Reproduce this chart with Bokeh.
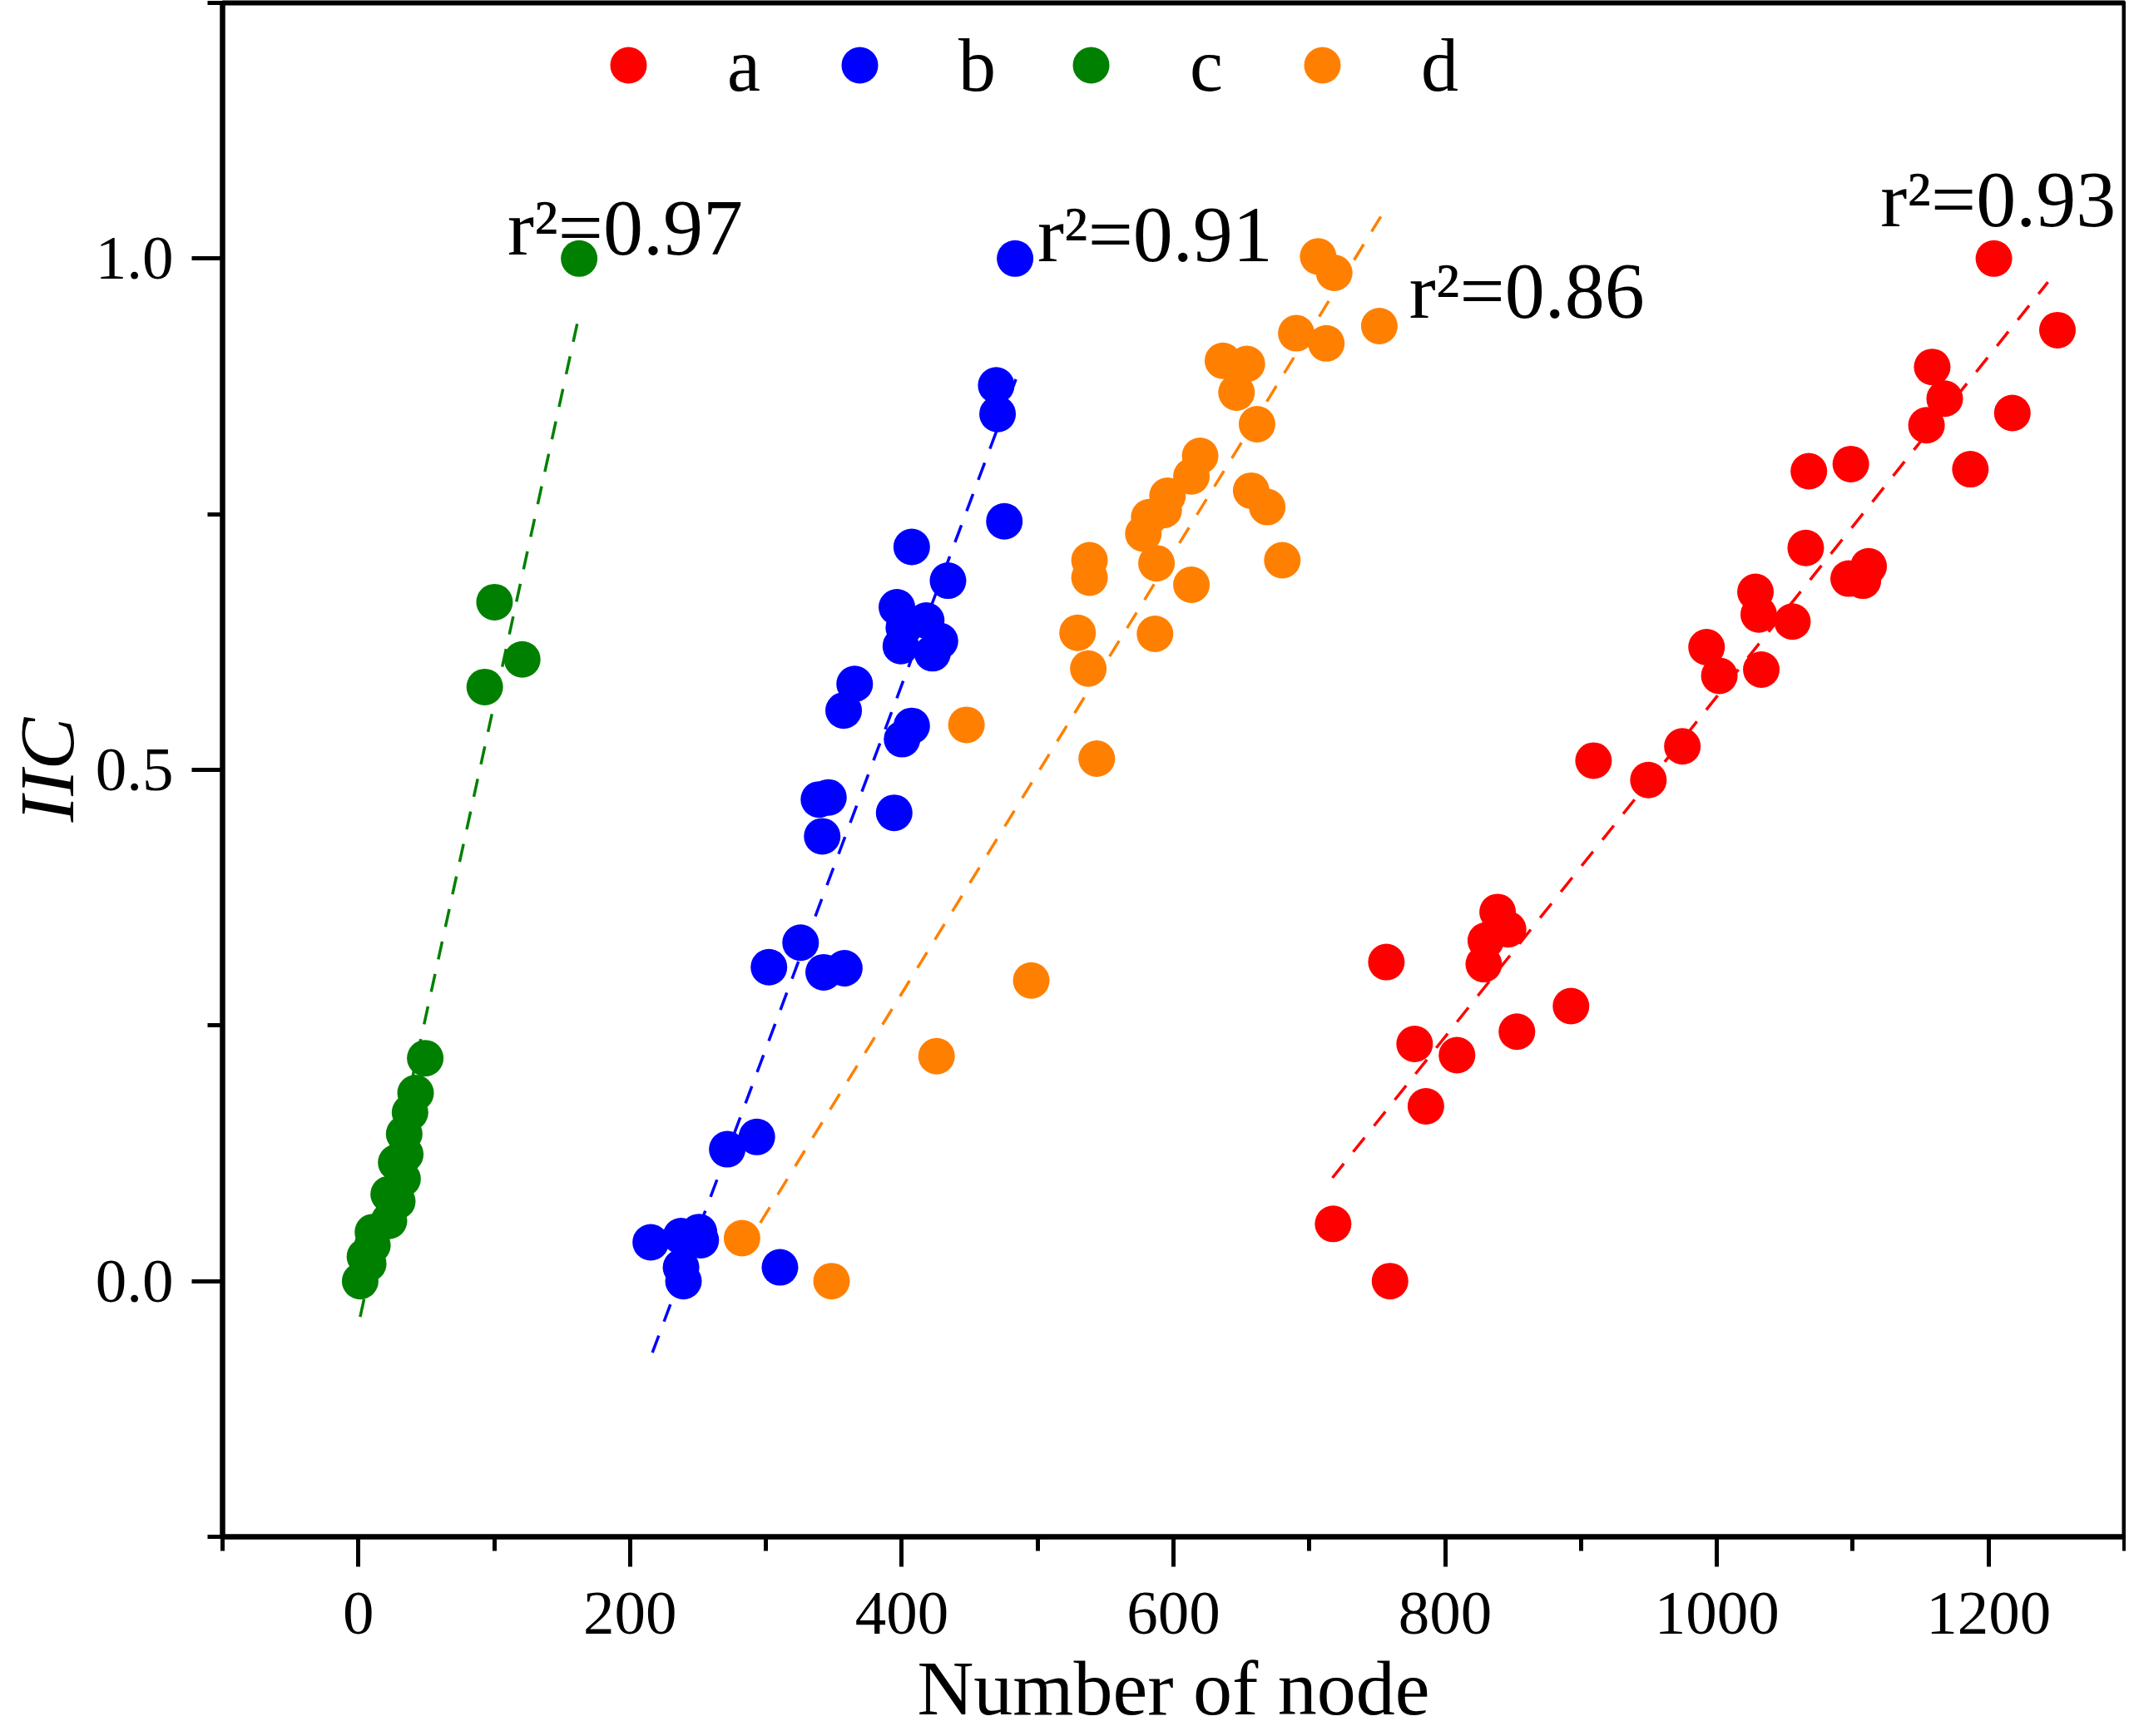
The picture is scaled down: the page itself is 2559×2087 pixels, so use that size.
from bokeh.plotting import figure
from bokeh.models import (Range1d, FixedTicker, PrintfTickFormatter, Legend,
                          LegendItem, ColumnDataSource)
from bokeh.core.properties import value
from bokeh.embed import file_html
from bokeh.resources import INLINE

# ---------------- data ----------------
series_names = ["a", "b", "c", "d"]
series_colors = ["#FF0000", "#0000FF", "#008000", "#FF8000"]

a_x = [1203.9, 1250.7, 1158.5, 1167.7, 1154.3, 1217.5, 1186.6, 1067.7, 1098.6,
       1065.4, 1111.7, 1097.0, 1107.5, 1028.4, 1030.8, 1055.6, 992.4, 1001.8,
       1032.7, 974.6, 909.2, 949.6, 838.6, 846.3, 829.9, 828.4, 756.7, 892.6,
       852.8, 777.5, 808.7, 785.8, 717.5, 759.4]
a_y = [1.000, 0.930, 0.894, 0.863, 0.837, 0.849, 0.794, 0.792, 0.799,
       0.717, 0.699, 0.687, 0.685, 0.674, 0.652, 0.645, 0.620, 0.592,
       0.598, 0.523, 0.509, 0.490, 0.361, 0.344, 0.333, 0.310, 0.312, 0.269,
       0.244, 0.232, 0.221, 0.171, 0.056, 0.000]

b_x = [483.4, 469.5, 470.5, 475.5, 407.3, 434.0, 396.4, 418.0, 428.1, 399.3,
       422.6, 401.5, 365.3, 357.2, 407.3, 400.2, 339.0, 346.0, 341.4, 394.4,
       325.5, 302.2, 342.5, 357.7, 293.3, 271.5, 215.2, 237.5, 250.7, 252.0,
       237.5, 239.3, 310.3]
b_y = [1.000, 0.876, 0.848, 0.743, 0.718, 0.685, 0.659, 0.646, 0.626, 0.621,
       0.614, 0.639, 0.584, 0.558, 0.543, 0.530, 0.471, 0.473, 0.435, 0.458,
       0.331, 0.307, 0.302, 0.306, 0.141, 0.129, 0.038, 0.044, 0.048, 0.040,
       0.0135, 0.000, 0.0135]

c_x = [162.5, 100.2, 120.6, 93.0, 49.2, 42.1, 38.0, 33.7, 34.5, 27.8, 32.5,
       22.3, 28.6, 22.5, 10.7, 10.3, 7.2, 4.8, 1.3]
c_y = [1.000, 0.664, 0.608, 0.581, 0.218, 0.184, 0.165, 0.144, 0.124, 0.116,
       0.100, 0.085, 0.078, 0.059, 0.048, 0.035, 0.017, 0.024, 0.000]

d_x = [706.5, 718.3, 751.5, 690.4, 712.5, 636.4, 654.0, 646.4, 661.5, 619.6,
       613.2, 595.6, 592.8, 582.1, 577.8, 657.2, 669.0, 680.1, 587.5, 613.2,
       538.2, 538.2, 529.4, 586.4, 537.3, 447.6, 543.5, 495.3, 425.6, 282.4,
       348.3]
d_y = [1.002, 0.986, 0.934, 0.927, 0.917, 0.900, 0.897, 0.869, 0.838, 0.807,
       0.787, 0.768, 0.754, 0.747, 0.731, 0.773, 0.757, 0.705, 0.702, 0.681,
       0.705, 0.688, 0.634, 0.633, 0.599, 0.544, 0.511, 0.294, 0.220, 0.042,
       0.000]

# fitted (dashed) regression lines: end points
a_fit_x = [717.0, 1243.7]
a_fit_y = [0.101, 0.977]
b_fit_x = [216.4, 484.0]
b_fit_y = [-0.070, 0.882]
c_fit_x = [1.3, 162.5]
c_fit_y = [-0.035, 0.945]
d_fit_x = [295.8, 752.6]
d_fit_y = [0.057, 1.041]

# r^2 annotations (baseline anchor, data units)
r2_text = ["r\u00b2=0.93", "r\u00b2=0.91", "r\u00b2=0.97", "r\u00b2=0.86"]
r2_x = [1120.4, 499.8, 109.8, 773.5]
r2_y = [1.0325, 0.9985, 1.0054, 0.9435]

x_ticks = [0, 200, 400, 600, 800, 1000, 1200]
x_minor = [-100, 100, 300, 500, 700, 900, 1100, 1300]
y_ticks = [0.0, 0.5, 1.0]
y_minor = [-0.25, 0.25, 0.75, 1.25]

x_title = "Number of node"
y_title = "IIC"

# ---------------- figure ----------------
SERIF = "Liberation Serif"

p = figure(width=2555, height=2083,
           x_range=Range1d(-100, 1300), y_range=Range1d(-0.25, 1.25),
           output_backend="svg", toolbar_location=None,
           min_border_left=265, min_border_right=2, min_border_top=3,
           min_border_bottom=236)
p.xgrid.visible = False
p.ygrid.visible = False
p.outline_line_color = "black"
p.outline_line_width = 6
p.outline_line_alpha = 1.0
p.background_fill_color = "white"
p.border_fill_color = "white"

xa = p.xaxis[0]
ya = p.yaxis[0]
xa.ticker = FixedTicker(ticks=x_ticks, minor_ticks=x_minor)
ya.ticker = FixedTicker(ticks=y_ticks, minor_ticks=y_minor)
ya.formatter = PrintfTickFormatter(format="%.1f")

for ax in (xa, ya):
    ax.axis_line_width = 6
    ax.axis_line_color = "black"
    ax.major_tick_line_width = 5
    ax.minor_tick_line_width = 5
    ax.major_tick_line_color = "black"
    ax.minor_tick_line_color = "black"
    ax.major_tick_in = 0
    ax.minor_tick_in = 0
    ax.major_label_text_font = SERIF
    ax.major_label_text_font_size = "75px"
    ax.major_label_text_color = "black"
    ax.axis_label_text_font = SERIF
    ax.axis_label_text_font_size = "94px"
    ax.axis_label_text_color = "black"

xa.major_tick_out = 36
xa.minor_tick_out = 17
xa.major_label_standoff = 31
xa.axis_label = x_title
xa.axis_label_standoff = 10
xa.axis_label_text_font_style = "normal"

ya.major_tick_out = 37
ya.minor_tick_out = 18
ya.major_label_standoff = 22
ya.axis_label = y_title
ya.axis_label_standoff = 4
ya.axis_label_text_font_style = "italic"

xs = [a_x, b_x, c_x, d_x]
ys = [a_y, b_y, c_y, d_y]
fxs = [a_fit_x, b_fit_x, c_fit_x, d_fit_x]
fys = [a_fit_y, b_fit_y, c_fit_y, d_fit_y]

renderers = []
for name, col, x, y in zip(series_names, series_colors, xs, ys):
    src = ColumnDataSource(dict(x=x, y=y))
    r = p.scatter("x", "y", source=src, size=44, fill_color=col,
                  line_color=None, marker="circle")
    renderers.append(r)

for col, fx, fy in zip(series_colors, fxs, fys):
    p.line(fx, fy, line_color=col, line_width=3.5, line_dash="22 18")

lab_src = ColumnDataSource(dict(x=r2_x, y=r2_y, t=r2_text))
p.text("x", "y", text="t", source=lab_src, text_font=value(SERIF),
       text_font_size="96px", text_color="black", text_align="left",
       text_baseline="alphabetic", y_offset=-31)

legend = Legend(items=[LegendItem(label=n, renderers=[r])
                       for n, r in zip(series_names, renderers)],
                orientation="horizontal", location=(433, 1714),
                glyph_width=110, glyph_height=110, label_standoff=64,
                label_width=60, spacing=44, padding=0, margin=0,
                border_line_color=None, background_fill_alpha=0,
                label_text_font=SERIF, label_text_font_size="90px",
                label_text_color="black")
p.add_layout(legend)

open("out.html", "w").write(file_html(p, INLINE))
